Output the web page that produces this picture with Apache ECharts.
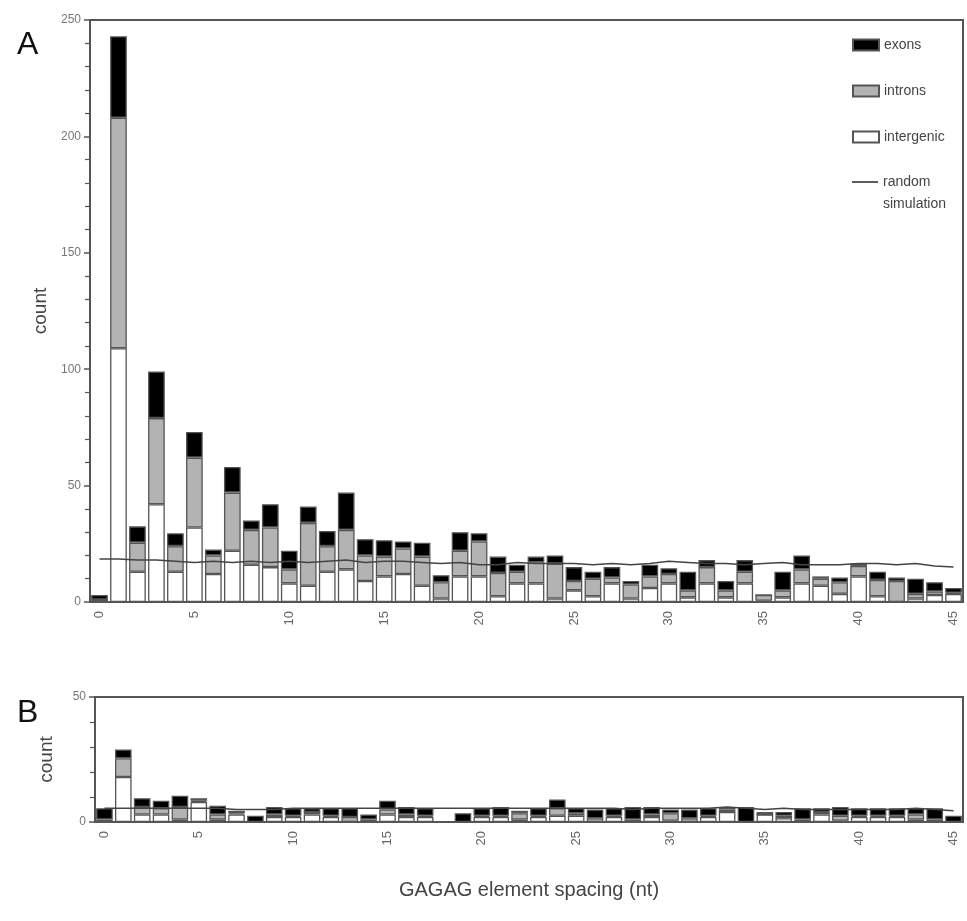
<!DOCTYPE html>
<html>
<head>
<meta charset="utf-8">
<script src="https://cdn.jsdelivr.net/npm/echarts@6/dist/echarts.min.js"></script>
<style>html,body{margin:0;padding:0;background:#fff}#c{width:967px;height:921px}</style>
</head>
<body>
<div id="c"></div>
<script>
const spacing = Array.from({length: 46}, (_, i) => String(i));

const intergenicA = [1,109,13,42,13,32,12,22,16,15,8,7,13,14,9,11,12,7,1.5,11,11,2.5,8,8,1.5,5,2.5,8,1.5,6,8,2,8,2,8,0.5,2,8,7,3.5,11,2.5,0,1.5,3,3.5];
const intronsA    = [0,99,12.5,37,11,30,8,25,15,17,6,27,11,17,11,8.5,11,12.5,7,11,15,10,5,9,15,4,7.5,2.5,6,5,4,3,7,3,5,2.5,3,6,3,5,4.5,7,9,2,1.5,0.5];
const exonsA      = [2,35,7,20,5.5,11,2.5,11,4,10,8,7,6.5,16,7,7,3,6,3,8,3.5,7,3,2.5,3.5,6,3,4.5,1.5,5,2.5,8,3,4,5,0,8,6,1,2,1,3.5,1.5,6.5,4,2];
const randomA     = [18.5,18.5,18,18,17.5,17,17.5,17,17.5,17,17.5,17,17.5,18,17,17.5,17.5,17,16.5,17,16,16,17,16.5,16.5,16.5,16,16.5,16,16.5,17.5,17,16.5,16.5,16,16.5,17,16,16,16,16.5,16.5,16,16.5,15.5,15];

const intergenicB = [0,18,3,3,1,8,1,3,0,2,2,3,2,0,0,3,2,2,0,0,2,2,1,2,2.5,2.5,0,2,0,2,0.5,0,2,4,0,3,1.5,0,3,0.5,2,2,2,1,0,0];
const intronsB    = [1,7.5,3,2.5,5,0.5,2,0.5,0,1,0.5,1,0.5,2,1,2,1,0.5,0,0,0.5,0.5,2.5,0.5,3,1,1.5,0.5,1,1,3,1.5,0.5,1,0,0,1,1,1,2,0.5,0.5,0.5,2,1,0];
const exonsB      = [4.5,3.5,3.5,3,4.5,1,3.5,1,2.5,3,3,1.5,3,3.5,2,3.5,3,3,0,3.5,3,3.5,1,3,3.5,2,3.5,3,5,3,1.5,3.5,3,1,6,1,1.5,4.5,1.5,3.5,3,3,3,2.5,4.5,2.5];
const randomB     = [5.5,5.5,5.5,5.5,5.5,5.5,5.5,5,5,5,5.5,5.5,5.5,5.5,5.5,5.5,5.5,5.5,5.5,5.5,5.5,5.5,5.5,5.5,5.5,5.5,5.5,5.5,5,5.5,5.5,5.5,5.5,6,5.5,5,5.5,5,5,5,5,5,5,5.5,5,4.5];

const FONT = 'Liberation Sans, Arial, sans-serif';
const FRAME = '#555';
const barBorder = {borderColor: '#555', borderWidth: 1.3};

function xAxisCfg(gridIndex, extra) {
  return Object.assign({
    type: 'category', gridIndex, data: spacing, boundaryGap: true,
    axisLine: {show: true, lineStyle: {color: FRAME, width: 2}},
    axisTick: {show: false},
    axisLabel: {interval: 4, rotate: 90, color: '#666', fontSize: 13, fontFamily: FONT, margin: 9},
    splitLine: {show: false}
  }, extra || {});
}
function yAxisCfg(gridIndex, max, interval, nameGap) {
  return {
    type: 'value', gridIndex, min: 0, max, interval,
    name: 'count', nameLocation: 'middle', nameGap,
    nameTextStyle: {color: '#444', fontSize: 19, fontFamily: FONT},
    axisLine: {show: true, lineStyle: {color: FRAME, width: 2}},
    axisTick: {show: true, length: 6, lineStyle: {color: FRAME, width: 1.5}},
    minorTick: {show: true, splitNumber: 5, length: 5, lineStyle: {color: FRAME, width: 1.2}},
    axisLabel: {color: '#777', fontSize: 12, fontFamily: FONT, margin: 9},
    splitLine: {show: false}
  };
}
function barSeries(name, data, color, xi, stack) {
  return {
    name, type: 'bar', stack, xAxisIndex: xi, yAxisIndex: xi, data,
    barCategoryGap: '12%',
    itemStyle: Object.assign({color}, barBorder),
    emphasis: {disabled: true}
  };
}
function lineSeries(data, xi) {
  return {
    name: 'random simulation', type: 'line', xAxisIndex: xi, yAxisIndex: xi, data,
    symbol: 'none', z: 5,
    itemStyle: {color: '#444'},
    lineStyle: {color: '#444', width: 1.5},
    emphasis: {disabled: true}
  };
}

const legendText = {color: '#444', fontSize: 14, fontFamily: FONT};

const chart = echarts.init(document.getElementById('c'), null, {renderer: 'canvas'});
chart.setOption({
  backgroundColor: '#fff',
  animation: false,
  textStyle: {fontFamily: FONT},
  title: [
    {text: 'A', left: 12, top: 24, textStyle: {fontSize: 32, fontWeight: 'normal', color: '#111', fontFamily: FONT}},
    {text: 'B', left: 12, top: 692, textStyle: {fontSize: 32, fontWeight: 'normal', color: '#111', fontFamily: FONT}}
  ],
  grid: [
    {left: 90, top: 20, right: 4, height: 582, show: true, borderColor: FRAME, borderWidth: 2, backgroundColor: 'transparent'},
    {left: 95, top: 697, right: 4, height: 125, show: true, borderColor: FRAME, borderWidth: 2, backgroundColor: 'transparent'}
  ],
  legend: [
    {
      orient: 'vertical', left: 852, top: 38, padding: 0,
      itemWidth: 26, itemHeight: 11, itemGap: 32,
      selectedMode: false,
      textStyle: legendText,
      data: [
        {name: 'exons', icon: 'rect'},
        {name: 'introns', icon: 'rect'},
        {name: 'intergenic', icon: 'rect'}
      ]
    },
    {
      orient: 'vertical', left: 852, top: 149, padding: 0,
      itemWidth: 26, itemHeight: 11,
      selectedMode: false,
      textStyle: Object.assign({lineHeight: 22}, legendText),
      formatter: () => ' \nrandom\nsimulation',
      data: [
        {name: 'random simulation', icon: 'path://M0,0H30V2H0Z', itemStyle: {color: '#444', borderWidth: 0}}
      ]
    }
  ],
  xAxis: [
    xAxisCfg(0),
    xAxisCfg(1, {name: 'GAGAG element spacing (nt)', nameLocation: 'middle', nameGap: 58,
      nameTextStyle: {color: '#444', fontSize: 20, fontFamily: FONT}})
  ],
  yAxis: [
    yAxisCfg(0, 250, 50, 34),
    yAxisCfg(1, 50, 50, 39)
  ],
  series: [
    barSeries('intergenic', intergenicA, '#ffffff', 0, 'A'),
    barSeries('introns', intronsA, '#b3b3b3', 0, 'A'),
    barSeries('exons', exonsA, '#000000', 0, 'A'),
    lineSeries(randomA, 0),
    barSeries('intergenic', intergenicB, '#ffffff', 1, 'B'),
    barSeries('introns', intronsB, '#b3b3b3', 1, 'B'),
    barSeries('exons', exonsB, '#000000', 1, 'B'),
    lineSeries(randomB, 1)
  ]
});
</script>
</body>
</html>
